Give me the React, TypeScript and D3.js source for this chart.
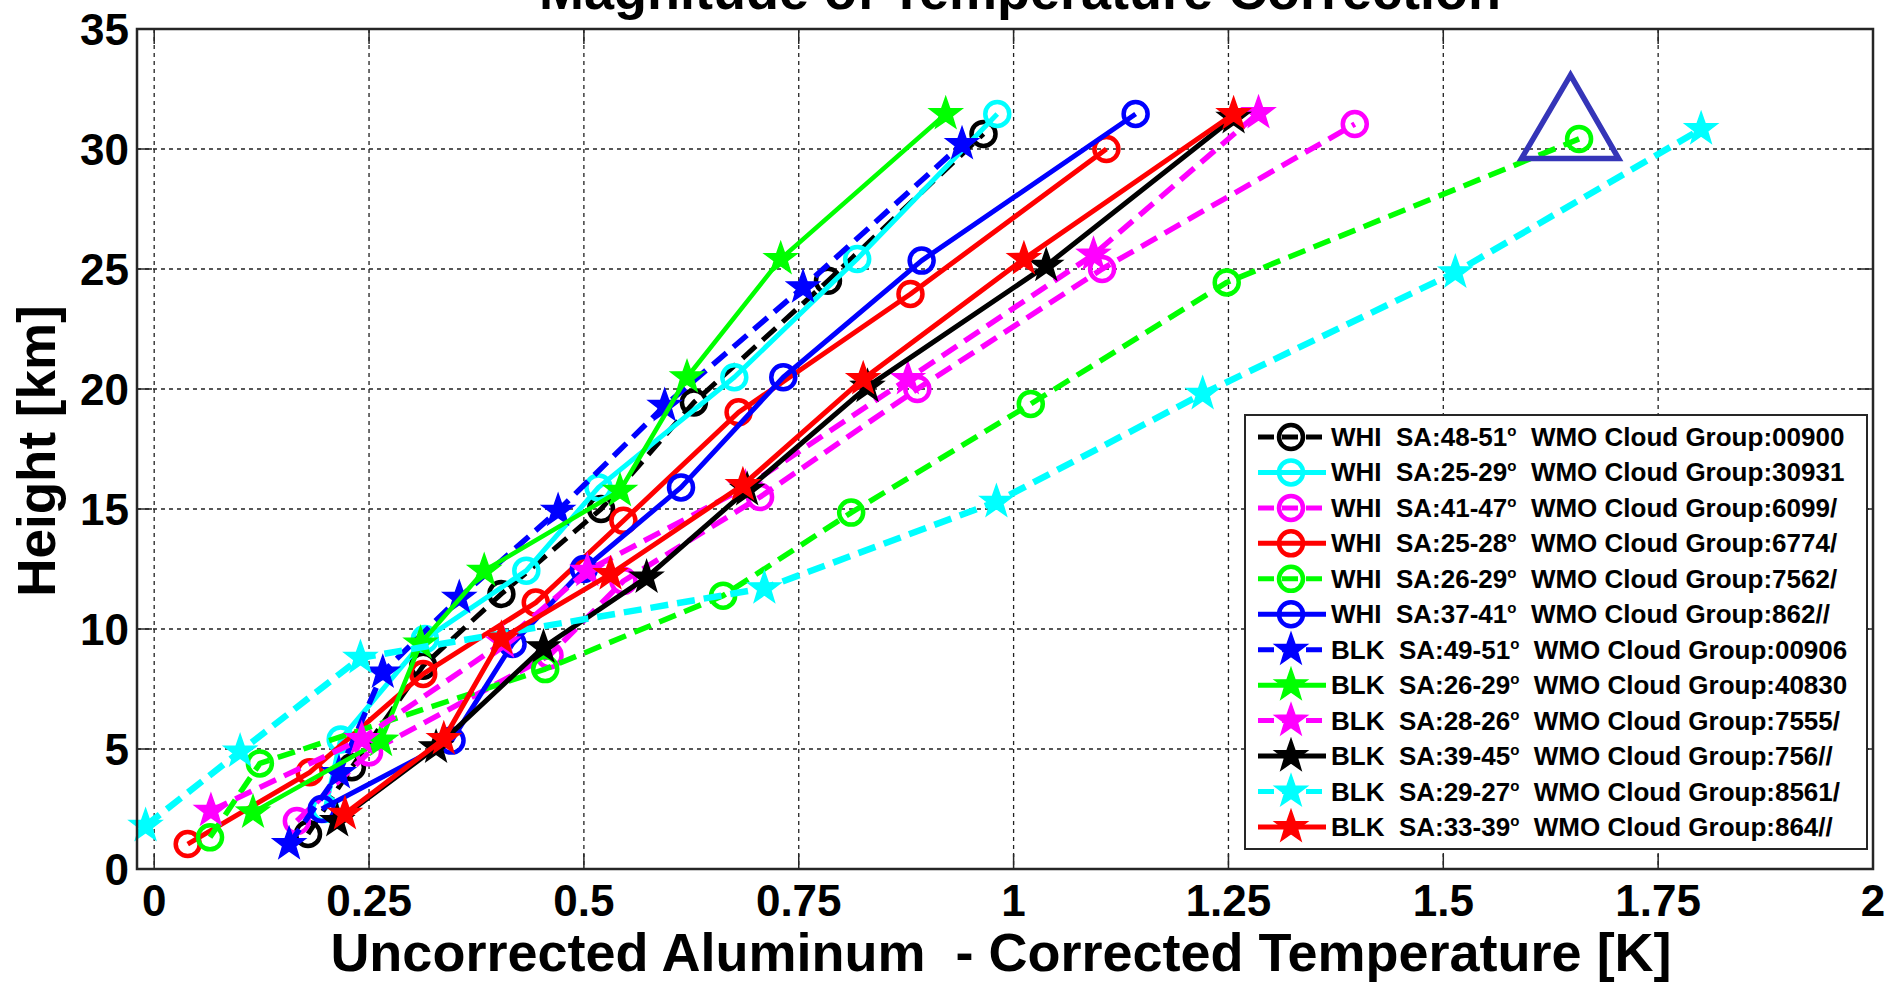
import React from "react";
import * as d3 from "d3";

const W = 1891;
const H = 985;
const FONT = "'Liberation Sans', Arial, Helvetica, sans-serif";

// axes box in page pixels
const BOX = { left: 137, right: 1873, top: 29, bottom: 869 };

const X_DOMAIN = [-0.02, 2];
const Y_DOMAIN = [0, 35];
const xTicks = [0, 0.25, 0.5, 0.75, 1, 1.25, 1.5, 1.75, 2];
const xTickLabels = ["0", "0.25", "0.5", "0.75", "1", "1.25", "1.5", "1.75", "2"];
const yTicks = [0, 5, 10, 15, 20, 25, 30, 35];
const yTickLabels = ["0", "5", "10", "15", "20", "25", "30", "35"];

// [temperature difference K, height km]
const whi00900 = [[0.179, 1.46], [0.23, 4.24], [0.313, 8.47], [0.404, 11.46], [0.52, 15.0], [0.628, 19.44], [0.784, 24.51], [0.965, 30.63]];
const whi30931 = [[0.199, 2.5], [0.217, 5.4], [0.315, 9.58], [0.433, 12.43], [0.517, 15.9], [0.675, 20.49], [0.818, 25.42], [0.981, 31.46]];
const whi6099 = [[0.166, 2.0], [0.25, 4.86], [0.46, 8.9], [0.546, 12.0], [0.705, 15.5], [0.888, 20.0], [1.103, 25.0], [1.397, 31.04]];
const whi6774 = [[0.039, 1.04], [0.181, 4.03], [0.313, 8.13], [0.444, 11.1], [0.546, 14.51], [0.68, 19.03], [0.88, 23.96], [1.108, 30.0]];
const whi7562 = [[0.065, 1.32], [0.123, 4.4], [0.455, 8.33], [0.662, 11.39], [0.811, 14.85], [1.02, 19.38], [1.248, 24.44], [1.658, 30.42]];
const whi862 = [[0.195, 2.5], [0.346, 5.35], [0.417, 9.38], [0.5, 12.5], [0.613, 15.9], [0.732, 20.49], [0.893, 25.35], [1.142, 31.46]];
const blk00906 = [[0.157, 1.04], [0.215, 4.0], [0.266, 8.19], [0.355, 11.3], [0.47, 14.93], [0.594, 19.3], [0.755, 24.24], [0.94, 30.21]];
const blk40830 = [[0.115, 2.36], [0.264, 5.35], [0.31, 9.4], [0.384, 12.43], [0.542, 15.76], [0.62, 20.49], [0.729, 25.42], [0.921, 31.46]];
const blk7555 = [[0.066, 2.43], [0.2415, 5.42], [0.406, 9.44], [0.504, 12.43], [0.688, 15.9], [0.877, 20.42], [1.093, 25.6], [1.285, 31.5]];
const blk756 = [[0.213, 2.0], [0.328, 5.07], [0.453, 9.24], [0.573, 12.15], [0.69, 15.8], [0.83, 20.1], [1.038, 25.14], [1.256, 31.3]];
const blk8561 = [[-0.01, 1.8], [0.1, 4.9], [0.24, 8.8], [0.71, 11.7], [0.98, 15.3], [1.22, 19.8], [1.514, 24.86], [1.8, 30.83]];
const blk864 = [[0.222, 2.3], [0.337, 5.42], [0.404, 9.6], [0.531, 12.29], [0.685, 16.0], [0.825, 20.42], [1.012, 25.42], [1.256, 31.46]];

const seriesData = [whi00900, whi30931, whi6099, whi6774, whi7562, whi862, blk00906, blk40830, blk7555, blk756, blk8561, blk864];
const sonde = ["WHI", "WHI", "WHI", "WHI", "WHI", "WHI", "BLK", "BLK", "BLK", "BLK", "BLK", "BLK"];
const sunAngle = ["48-51", "25-29", "41-47", "25-28", "26-29", "37-41", "49-51", "26-29", "28-26", "39-45", "29-27", "33-39"];
const cloudGroup = ["00900", "30931", "6099/", "6774/", "7562/", "862//", "00906", "40830", "7555/", "756//", "8561/", "864//"];

// styles
const colors = ["#000000", "#00ffff", "#ff00ff", "#ff0000", "#00ff00", "#0000ff", "#0000ff", "#00ff00", "#ff00ff", "#000000", "#00ffff", "#ff0000"];
const dashed = [true, false, true, false, true, false, true, false, true, false, true, false];
const markers = ["o", "o", "o", "o", "o", "o", "*", "*", "*", "*", "*", "*"];
const widths = [5, 5, 5.5, 5, 5.5, 5, 5.5, 4.5, 5.5, 5, 6.5, 5];

// highlighted point (triangle) in data coords
const triangle = [[1.648, 33.08], [1.591, 29.6], [1.704, 29.6]];

function starPath(cx: number, cy: number, R: number, r: number) {
  const pts: string[] = [];
  for (let i = 0; i < 10; i++) {
    const a = -Math.PI / 2 + (i * Math.PI) / 5;
    const rad = i % 2 === 0 ? R : r;
    pts.push(`${cx + rad * Math.cos(a)},${cy + rad * Math.sin(a)}`);
  }
  return "M" + pts.join("L") + "Z";
}

function Marker({ kind, cx, cy, color }: { kind: string; cx: number; cy: number; color: string }) {
  if (kind === "o") {
    return <circle cx={cx} cy={cy} r={12} fill="none" stroke={color} strokeWidth={4.5} />;
  }
  return <path d={starPath(cx, cy, 17, 6.8)} fill={color} stroke={color} strokeWidth={1.5} strokeLinejoin="miter" />;
}

export default function App() {
  const x = d3.scaleLinear().domain(X_DOMAIN).range([BOX.left, BOX.right]);
  const y = d3.scaleLinear().domain(Y_DOMAIN).range([BOX.bottom, BOX.top]);
  const line = d3
    .line<number[]>()
    .x((d) => x(d[0]))
    .y((d) => y(d[1]));

  const legend = { left: 1245, top: 415, width: 622, height: 434, rowStart: 437, rowStep: 35.45 };
  const TICK = 15;

  return (
    <svg width={W} height={H} style={{ position: "absolute", left: 0, top: 0, background: "#fff" }} fontFamily={FONT}>
      <rect x={0} y={0} width={W} height={H} fill="#fff" />

      {/* title, mostly cut off at the top like the source */}
      <text x={1020} y={9} textAnchor="middle" fontSize={54} fontWeight="bold">
        Magnitude of Temperature Correction
      </text>

      {/* grid */}
      {xTicks.map((t) => (
        <line key={"gx" + t} x1={x(t)} x2={x(t)} y1={BOX.top} y2={BOX.bottom} stroke="#222" strokeWidth={1.3} strokeDasharray="4 4" />
      ))}
      {yTicks.map((t) => (
        <line key={"gy" + t} x1={BOX.left} x2={BOX.right} y1={y(t)} y2={y(t)} stroke="#222" strokeWidth={1.3} strokeDasharray="4 4" />
      ))}

      {/* series */}
      {seriesData.map((d, i) => (
        <g key={"s" + i}>
          <path
            d={line(d) || ""}
            fill="none"
            stroke={colors[i]}
            strokeWidth={widths[i]}
            strokeDasharray={dashed[i] ? "18 9" : undefined}
            strokeLinejoin="round"
          />
          {d.map((p, j) => (
            <Marker key={j} kind={markers[i]} cx={x(p[0])} cy={y(p[1])} color={colors[i]} />
          ))}
        </g>
      ))}

      {/* annotation triangle */}
      <path
        d={"M" + triangle.map((p) => `${x(p[0])},${y(p[1])}`).join("L") + "Z"}
        fill="none"
        stroke="#3535b8"
        strokeWidth={5.5}
        strokeLinejoin="miter"
      />

      {/* axes box and ticks */}
      <rect x={BOX.left} y={BOX.top} width={BOX.right - BOX.left} height={BOX.bottom - BOX.top} fill="none" stroke="#262626" strokeWidth={2.5} />
      {xTicks.map((t) => (
        <g key={"tx" + t}>
          <line x1={x(t)} x2={x(t)} y1={BOX.bottom} y2={BOX.bottom - TICK} stroke="#262626" strokeWidth={1.5} />
          <line x1={x(t)} x2={x(t)} y1={BOX.top} y2={BOX.top + TICK} stroke="#262626" strokeWidth={1.5} />
        </g>
      ))}
      {yTicks.map((t) => (
        <g key={"ty" + t}>
          <line x1={BOX.left} x2={BOX.left + TICK} y1={y(t)} y2={y(t)} stroke="#262626" strokeWidth={1.5} />
          <line x1={BOX.right} x2={BOX.right - TICK} y1={y(t)} y2={y(t)} stroke="#262626" strokeWidth={1.5} />
        </g>
      ))}

      {/* tick labels */}
      {xTicks.map((t, i) => (
        <text key={"lx" + t} x={x(t)} y={916} textAnchor="middle" fontSize={44} fontWeight="bold">
          {xTickLabels[i]}
        </text>
      ))}
      {yTicks.map((t, i) => (
        <text key={"ly" + t} x={129} y={y(t) + 16} textAnchor="end" fontSize={44} fontWeight="bold">
          {yTickLabels[i]}
        </text>
      ))}

      {/* axis titles */}
      <text x={1001} y={971} textAnchor="middle" fontSize={54} fontWeight="bold" style={{ whiteSpace: "pre" }}>
        {"Uncorrected Aluminum  - Corrected Temperature [K]"}
      </text>
      <text x={55} y={451} textAnchor="middle" fontSize={53} fontWeight="bold" transform="rotate(-90 55 451)">
        Height [km]
      </text>

      {/* legend */}
      <rect x={legend.left} y={legend.top} width={legend.width} height={legend.height} fill="#fff" stroke="#262626" strokeWidth={2} />
      {seriesData.map((_, i) => {
        const cy = legend.rowStart + i * legend.rowStep;
        return (
          <g key={"lg" + i}>
            <line
              x1={1258}
              x2={1326}
              y1={cy}
              y2={cy}
              stroke={colors[i]}
              strokeWidth={5}
              strokeDasharray={dashed[i] ? "16 8" : undefined}
            />
            <Marker kind={markers[i]} cx={1291} cy={cy} color={colors[i]} />
            <text x={1331} y={cy + 9} fontSize={26} fontWeight="bold" style={{ whiteSpace: "pre" }}>
              <tspan>{`${sonde[i]}  SA:${sunAngle[i]}`}</tspan>
              <tspan dy={-10} fontSize={15}>o</tspan>
              <tspan dy={10}>{`  WMO Cloud Group:${cloudGroup[i]}`}</tspan>
            </text>
          </g>
        );
      })}
    </svg>
  );
}
